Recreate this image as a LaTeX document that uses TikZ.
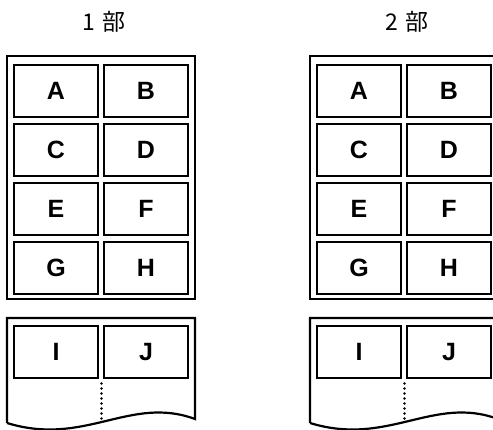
\documentclass[tikz,border=0pt]{standalone}
\usepackage{fontspec}
\setmainfont{Liberation Sans}
\newfontfamily\jpfont{Noto Sans CJK JP}
\begin{document}
\begin{tikzpicture}[x=1pt,y=-1pt,
  cell/.style={draw,line width=1.3pt,minimum width=84pt,minimum height=52pt,inner sep=0pt,font=\fontsize{25}{25}\selectfont\bfseries},
  frame/.style={draw,line width=2.2pt},
  title/.style={font=\jpfont\fontsize{23}{23}\selectfont}]
\clip (0,0) rectangle (493,430);
\foreach \p/\dx in {1/0,2/303}{
  \begin{scope}[xshift=\dx pt]
  \node[title] (t\p) at (104,22) {\p\hspace{7pt}部};
  \draw[frame] (7,56) rectangle (195,299);
  \node[cell] (A\p) at (56,91) {A};
  \node[cell] (B\p) at (146,91) {B};
  \node[cell] (C\p) at (56,150) {C};
  \node[cell] (D\p) at (146,150) {D};
  \node[cell] (E\p) at (56,209) {E};
  \node[cell] (F\p) at (146,209) {F};
  \node[cell] (G\p) at (56,268) {G};
  \node[cell] (H\p) at (146,268) {H};
  \node[cell] (I\p) at (56,352) {I};
  \node[cell] (J\p) at (146,352) {J};
  \draw[frame,line join=miter] (7,423) -- (7,318) -- (195,318) -- (195,419)
     .. controls (130,395) and (85,447) .. (7,423);
  \coordinate (s\p) at (101.5,383.5);
  \coordinate (e\p) at (101.5,418.5);
  \draw[line width=2.6pt,line cap=round,dash pattern=on 0pt off 5pt] (s\p) -- (e\p);
  \end{scope}
}
\end{tikzpicture}
\end{document}
